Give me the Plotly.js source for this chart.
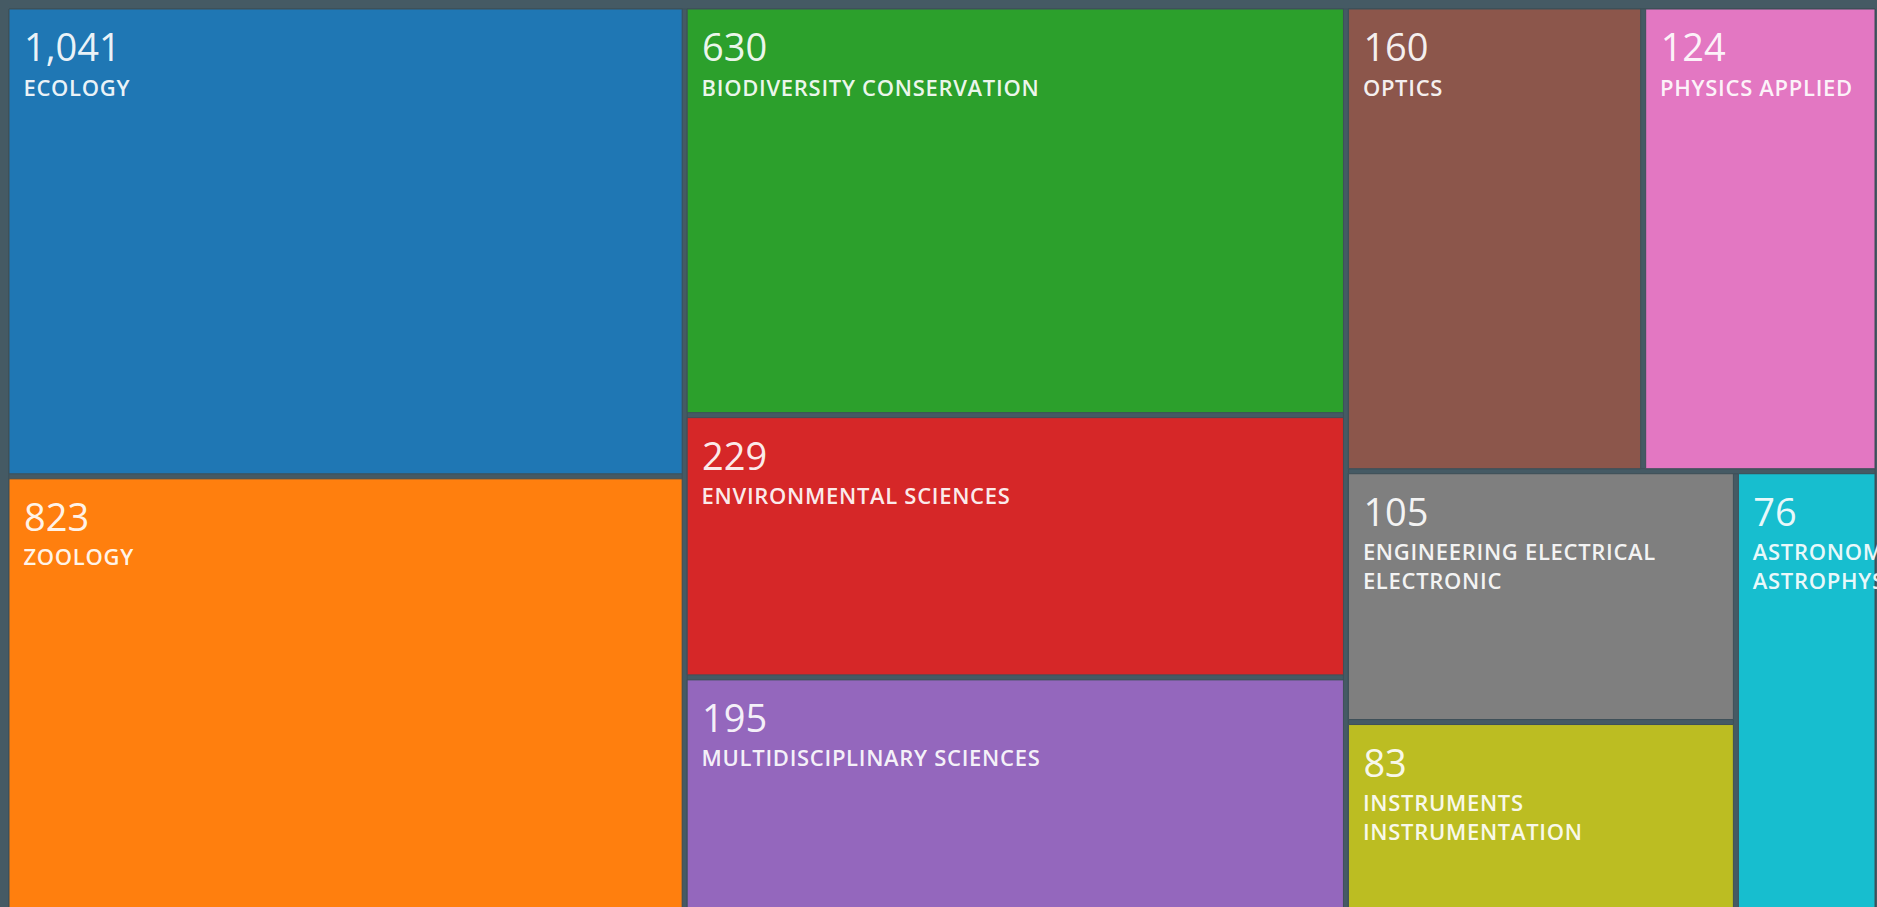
<!DOCTYPE html>
<html>
<head>
<meta charset="utf-8">
<script src="https://cdn.plot.ly/plotly-3.0.1.min.js"></script>
<style>
  html, body { margin: 0; padding: 0; overflow: hidden; background: #455a64; }
  #chart { width: 1877px; height: 960px; }
</style>
</head>
<body>
<div id="chart"></div>
<script>
// ---- data ----
const categories = [
  'ECOLOGY', 'ZOOLOGY', 'BIODIVERSITY CONSERVATION', 'ENVIRONMENTAL SCIENCES',
  'MULTIDISCIPLINARY SCIENCES', 'OPTICS', 'PHYSICS APPLIED',
  'ENGINEERING ELECTRICAL ELECTRONIC', 'INSTRUMENTS INSTRUMENTATION', 'ASTRONOMY ASTROPHYSICS'
];
const recordCounts = [1041, 823, 630, 229, 195, 160, 124, 105, 83, 76];
// relative tile areas as drawn in the reference (thousands of px^2)
const tileAreas = [316, 327, 268, 172, 187, 137, 108, 97, 93, 69];
// grouping of the tiles in the reference layout
const tileGroups = ['c1', 'c1', 'c2', 'c2', 'c2', 'r1', 'r1', 's1', 's1', 'r2'];
const groupIds = ['root', 'c1', 'c2', 'c3', 'r1', 'r2', 's1'];
const groupParents = ['', 'root', 'root', 'root', 'c3', 'c3', 'r2'];
const tileColors = ['#1f77b4', '#ff7f0e', '#2ca02c', '#d62728', '#9467bd',
                    '#8c564b', '#e377c2', '#7f7f7f', '#bcbd22', '#17becf'];
const lineBreaks = {
  'ENGINEERING ELECTRICAL ELECTRONIC': ['ENGINEERING ELECTRICAL', 'ELECTRONIC'],
  'INSTRUMENTS INSTRUMENTATION': ['INSTRUMENTS', 'INSTRUMENTATION'],
  'ASTRONOMY ASTROPHYSICS': ['ASTRONOMY', 'ASTROPHYSICS']
};

const BG = '#455a64';

const ids = groupIds.concat(categories);
const parents = groupParents.concat(tileGroups);
const values = groupIds.map(() => 0).concat(tileAreas);
const colors = groupIds.map(() => BG).concat(tileColors);

const texts = groupIds.map(() => '').concat(categories.map((c, i) => {
  const num = recordCounts[i].toLocaleString('en-US');
  const lines = (lineBreaks[c] || [c]).map(l => '&nbsp;&nbsp;<span style="letter-spacing:0.7px">' + l + '</span>');
  return '<span style="baseline-shift:6px"><span style="font-size:46px">&nbsp;</span>' +
         '<span style="font-size:38px;font-weight:500;fill:#ffffff">' + num + '</span></span><br>' +
         lines.join('<br>');
}));

const trace = {
  type: 'treemap',
  ids: ids,
  labels: ids,
  parents: parents,
  values: values,
  branchvalues: 'remainder',
  sort: false,
  text: texts,
  texttemplate: '%{text}',
  textposition: 'top left',
  textfont: { family: 'Open Sans', size: 22, weight: 600, color: 'rgba(255,255,255,0.92)' },
  marker: {
    colors: colors,
    line: { width: 1, color: '#3e5059' },
    pad: { t: 0, l: 0, r: 0, b: 0 },
    depthfade: false
  },
  leaf: { opacity: 1 },
  tiling: { packing: 'slice-dice', pad: 5 },
  pathbar: { visible: false },
  hoverinfo: 'skip',
  root: { color: BG }
};

const layout = {
  width: 1877,
  height: 960,
  margin: { l: 9, r: 2, t: 9, b: 0 },
  paper_bgcolor: BG,
  plot_bgcolor: BG,
  showlegend: false,
  uniformtext: { mode: 'show', minsize: 22 }
};

Plotly.newPlot('chart', [trace], layout, { staticPlot: true, displayModeBar: false });
</script>
</body>
</html>
